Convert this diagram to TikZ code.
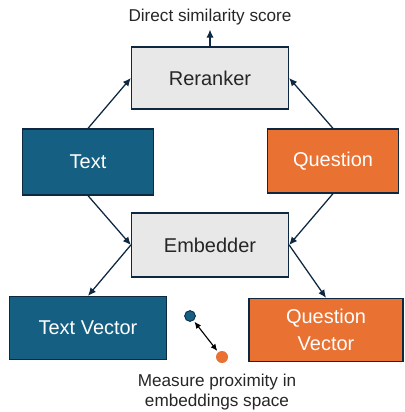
\documentclass[tikz,border=0pt]{standalone}
\usepackage{fontspec}
\setmainfont{Liberation Sans}
\usetikzlibrary{arrows.meta,positioning}
\definecolor{navy}{HTML}{0E2841}
\definecolor{tealblue}{HTML}{156082}
\definecolor{tangerine}{HTML}{E97132}
\definecolor{lightgray}{HTML}{E8E8E8}

\begin{document}
\begin{tikzpicture}[
  x=0.025cm, y=-0.025cm,
  font=\fontsize{14.2}{16}\selectfont,
  box/.style={draw=navy, line width=0.9pt, align=center, inner sep=3pt},
  model/.style={box, fill=lightgray, text=black!85, minimum width=3.925cm, minimum height=1.55cm},
  inblue/.style={box, fill=tealblue, text=white},
  inorange/.style={box, fill=tangerine, text=white},
  dot/.style={circle, inner sep=0pt},
  arr/.style={-{Latex[length=2mm,width=1.8mm]}, navy, line width=0.9pt},
  note/.style={font=\fontsize{12.2}{14.5}\selectfont, text=black!85, align=center}
]
\useasboundingbox (0,0) rectangle (404,412);
\node[model] (rr) at (210,78) {Reranker};
\node[model, minimum height=1.6cm] (emb) at (210,245) {Embedder};
\node[inblue, minimum width=3.275cm, minimum height=1.65cm] (txt) at (88,162) {Text};
\node[inorange, minimum width=3.275cm, minimum height=1.6cm] (q) at (333,161) {Question};
\node[inblue, minimum width=3.925cm, minimum height=1.575cm] (tv) at (88,328) {Text Vector};
\node[inorange, minimum width=3.85cm, minimum height=1.575cm] (qv) at (326,330) {Question\\[3pt]Vector};
\node[note, above=0.42cm of rr] (score) {Direct similarity score};
\node[dot, fill=tealblue, draw=navy, line width=0.6pt, minimum size=0.27cm] (bd) at (190,316) {};
\node[dot, fill=tangerine, minimum size=0.3cm] (od) at (222,357) {};
\node[note] (meas) at (217,392) {Measure proximity in\\embeddings space};
\draw[arr] (rr) -- (score);
\draw[arr] (txt.north) -- (rr.west);
\draw[arr] (q.north) -- (rr.east);
\draw[arr] (txt.south) -- (emb.west);
\draw[arr] (q.south) -- (emb.east);
\draw[arr] (emb.west) -- (tv.north);
\draw[arr] (emb.east) -- (qv.north);
\draw[{Latex[length=1.7mm,width=1.5mm]}-{Latex[length=1.7mm,width=1.5mm]}, black, line width=0.8pt, shorten <=1pt, shorten >=1pt] (bd) -- (od);
\end{tikzpicture}
\end{document}
